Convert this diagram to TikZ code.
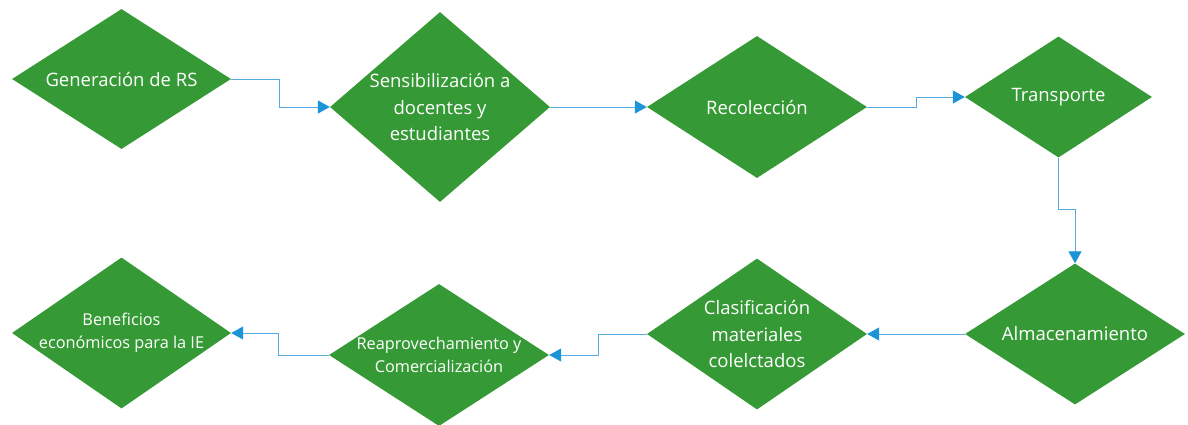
\documentclass[tikz,border=0pt]{standalone}
\usepackage{fontspec}
\setmainfont{Open Sans}
\usetikzlibrary{shapes.geometric,arrows.meta}
\definecolor{rsgreen}{RGB}{53,154,53}
\definecolor{rsline}{RGB}{86,172,226}
\definecolor{rstip}{RGB}{27,148,216}

\begin{document}
\begin{tikzpicture}[x=1pt,y=-1pt,
	paso/.style={diamond,fill=rsgreen,draw=none,inner sep=0pt},
	texto/.style={text=white,align=center,inner sep=0pt,font=\fontsize{18.5}{26.5}\selectfont},
	textochico/.style={text=white,align=center,inner sep=0pt,font=\fontsize{16.3}{23}\selectfont},
	flujo/.style={draw=rsline,line width=1pt,-{Triangle[length=12pt,width=13pt,color=rstip]}}]
	\useasboundingbox (0,0) rectangle (1188,424);

	%rombos
	\foreach \nombre/\x/\y/\w/\h in {gen/121.5/79/219/140, sens/440/107/220/190, rec/757/107/220/142, trans/1058.5/97/187/121, alm/1075/334/220/141, clas/757/334/220/151, reap/439/355/220/142, ben/121.5/333/219/151}{
		\node[paso,minimum width=\w pt,minimum height=\h pt] (\nombre) at (\x,\y) {};
	}

	%textos
	\node[texto] (gen-t) at (gen) {Generación de RS};
	\node[texto] (sens-t) at (sens) {Sensibilización a\\docentes y\\estudiantes};
	\node[texto] (rec-t) at (rec) {Recolección};
	\node[texto] (trans-t) at (trans) {Transporte};
	\node[texto] (alm-t) at (alm) {Almacenamiento};
	\node[texto] (clas-t) at (clas) {Clasificación\\materiales\\colelctados};
	\node[textochico] (reap-t) at (reap) {Reaprovechamiento y\\Comercialización};
	\node[textochico] (ben-t) at (ben) {Beneficios\\económicos para la IE};

	%flechas
	\draw[flujo] (gen.east) -- ++(48,0) |- (sens.west);
	\draw[flujo] (sens.east) -- (rec.west);
	\draw[flujo] (rec.east) -- ++(49,0) |- (trans.west);
	\draw[flujo] (trans.south) -- ++(0,52) -| (alm.north);
	\draw[flujo] (alm.west) -- (clas.east);
	\draw[flujo] (clas.west) -- ++(-48,0) |- (reap.east);
	\draw[flujo] (reap.west) -- ++(-50,0) |- (ben.east);
\end{tikzpicture}
\end{document}
